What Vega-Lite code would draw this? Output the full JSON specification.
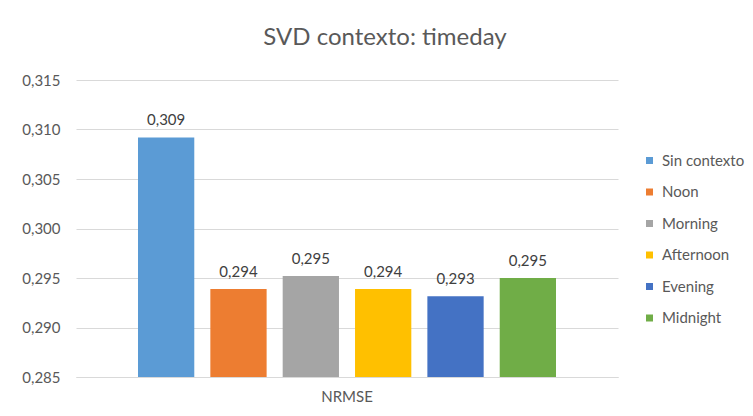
{
  "$schema": "https://vega.github.io/schema/vega-lite/v6.json",
  "width": 542,
  "height": 297,
  "autosize": "none",
  "padding": {"left": 76, "top": 80, "right": 135, "bottom": 39},
  "background": "white",
  "title": {
    "text": "SVD contexto: timeday",
    "anchor": "middle",
    "frame": "group",
    "dx": 38,
    "offset": 4,
    "baseline": "alphabetic",
    "font": "Lato",
    "fontSize": 24,
    "fontWeight": "normal",
    "color": "#595959"
  },
  "data": {
    "values": [
      {"metric": "NRMSE", "serie": "Sin contexto", "value": 0.3092},
      {"metric": "NRMSE", "serie": "Noon", "value": 0.2939},
      {"metric": "NRMSE", "serie": "Morning", "value": 0.2952},
      {"metric": "NRMSE", "serie": "Afternoon", "value": 0.2939},
      {"metric": "NRMSE", "serie": "Evening", "value": 0.29315},
      {"metric": "NRMSE", "serie": "Midnight", "value": 0.2950}
    ]
  },
  "encoding": {
    "x": {
      "field": "metric",
      "type": "nominal",
      "title": null,
      "scale": {"paddingInner": 0, "paddingOuter": 0},
      "axis": {
        "labelAngle": 0,
        "ticks": false,
        "tickSize": 0,
        "labelPadding": 12,
        "domainColor": "#d9d9d9",
        "domainWidth": 1,
        "labelFont": "Lato",
        "labelFontSize": 15,
        "labelColor": "#595959"
      }
    },
    "xOffset": {
      "field": "serie",
      "type": "nominal",
      "sort": ["Sin contexto", "Noon", "Morning", "Afternoon", "Evening", "Midnight"],
      "scale": {"paddingInner": 0.222, "paddingOuter": 0.857}
    },
    "y": {
      "field": "value",
      "type": "quantitative",
      "title": null,
      "scale": {"domain": [0.285, 0.315], "nice": false, "zero": false},
      "axis": {
        "values": [0.285, 0.29, 0.295, 0.3, 0.305, 0.31, 0.315],
        "format": ".3f",
        "domain": false,
        "ticks": false,
        "tickSize": 0,
        "labelPadding": 16,
        "gridColor": "#d9d9d9",
        "gridWidth": 1,
        "labelFont": "Lato",
        "labelFontSize": 15,
        "labelColor": "#595959"
      }
    }
  },
  "layer": [
    {
      "mark": {"type": "bar", "clip": true},
      "encoding": {
        "color": {
          "field": "serie",
          "type": "nominal",
          "sort": ["Sin contexto", "Noon", "Morning", "Afternoon", "Evening", "Midnight"],
          "scale": {
            "domain": ["Sin contexto", "Noon", "Morning", "Afternoon", "Evening", "Midnight"],
            "range": ["#5B9BD5", "#ED7D31", "#A5A5A5", "#FFC000", "#4472C4", "#70AD47"]
          },
          "legend": {
            "title": null,
            "orient": "none",
            "legendX": 566,
            "legendY": 73,
            "symbolType": "square",
            "symbolSize": 49,
            "symbolStrokeWidth": 0,
            "labelFont": "Lato",
            "labelFontSize": 15,
            "labelColor": "#595959",
            "labelOffset": 5,
            "rowPadding": 15.5
          }
        }
      }
    },
    {
      "mark": {"type": "text", "baseline": "alphabetic", "dy": -12, "font": "Lato", "fontSize": 15, "color": "#404040"},
      "encoding": {
        "text": {"field": "value", "type": "quantitative", "format": ".3f"}
      }
    }
  ],
  "config": {
    "locale": {
      "number": {"decimal": ",", "thousands": ".", "grouping": [3], "currency": ["", " €"]}
    },
    "view": {"stroke": null}
  }
}
